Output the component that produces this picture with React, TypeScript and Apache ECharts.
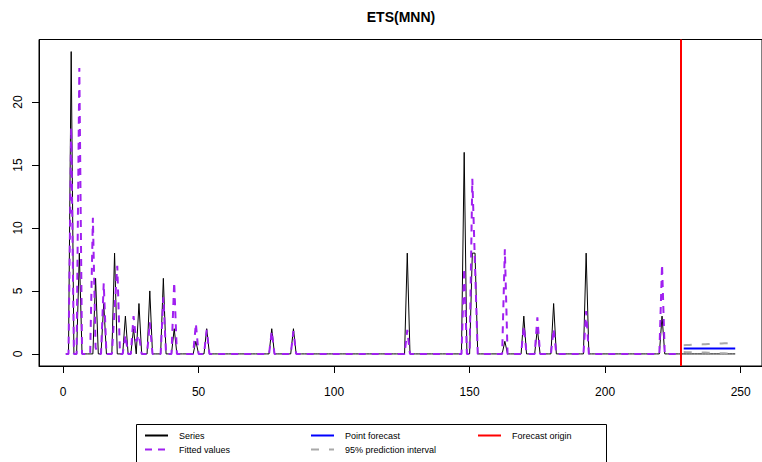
import React, { useEffect, useRef } from "react";
import * as echarts from "echarts";

// Actual series, t = 1..248 (last 20 are the holdout)
const seriesValues = [
  0, 0, 24, 0, 0, 8, 0, 0, 0, 0, 0, 6, 0, 0, 4, 0, 0, 0, 8, 0,
  0, 0, 3, 0, 0, 2, 0, 4, 0, 0, 0, 5, 0, 0, 0, 0, 6, 0, 0, 0,
  2, 0, 0, 0, 0, 0, 0, 0, 1, 0, 0, 0, 2, 0, 0, 0, 0, 0, 0, 0,
  0, 0, 0, 0, 0, 0, 0, 0, 0, 0, 0, 0, 0, 0, 0, 0, 2, 0, 0, 0,
  0, 0, 0, 0, 2, 0, 0, 0, 0, 0, 0, 0, 0, 0, 0, 0, 0, 0, 0, 0,
  0, 0, 0, 0, 0, 0, 0, 0, 0, 0, 0, 0, 0, 0, 0, 0, 0, 0, 0, 0,
  0, 0, 0, 0, 0, 0, 8, 0, 0, 0, 0, 0, 0, 0, 0, 0, 0, 0, 0, 0,
  0, 0, 0, 0, 0, 0, 0, 16, 0, 0, 8, 8, 0, 0, 0, 0, 0, 0, 0, 0,
  0, 0, 1, 0, 0, 0, 0, 0, 0, 3, 0, 0, 0, 0, 2, 0, 0, 0, 0, 0,
  4, 0, 0, 0, 0, 0, 0, 0, 0, 0, 0, 0, 8, 0, 0, 0, 0, 0, 0, 0,
  0, 0, 0, 0, 0, 0, 0, 0, 0, 0, 0, 0, 0, 0, 0, 0, 0, 0, 0, 0,
  3, 0, 0, 0, 0, 0, 0, 0, 0, 0, 0, 0, 0, 0, 0, 0, 0, 0, 0, 0,
  0, 0, 0, 0, 0, 0, 0, 0,
];

// Fitted values, t = 1..228
const fittedValues = [
  0, 0, 18, 0, 0, 22.7, 0, 0, 0, 0, 10.8, 0.5, 0, 0, 5.6, 0, 0, 0, 3.5, 7,
  0, 0, 1.5, 0, 0, 3, 1, 1.5, 0, 0, 0, 2.5, 0, 0, 0, 0, 4.5, 0, 0, 0,
  5.7, 0, 0, 0, 0, 0, 0, 0, 2.4, 0, 0, 0, 1.9, 0, 0, 0, 0, 0, 0, 0,
  0, 0, 0, 0, 0, 0, 0, 0, 0, 0, 0, 0, 0, 0, 0, 0, 1.8, 0, 0, 0,
  0, 0, 0, 0, 1.8, 0, 0, 0, 0, 0, 0, 0, 0, 0, 0, 0, 0, 0, 0, 0,
  0, 0, 0, 0, 0, 0, 0, 0, 0, 0, 0, 0, 0, 0, 0, 0, 0, 0, 0, 0,
  0, 0, 0, 0, 0, 0, 1.9, 0, 0, 0, 0, 0, 0, 0, 0, 0, 0, 0, 0, 0,
  0, 0, 0, 0, 0, 0, 0, 6.8, 0, 0, 13.9, 7, 0, 0, 0, 0, 0, 0, 0, 0,
  0, 0, 8.3, 0, 0, 0, 0, 0, 0, 2.2, 0, 0, 0, 0, 2.9, 0, 0, 0, 0, 0,
  2, 0, 0, 0, 0, 0, 0, 0, 0, 0, 0, 0, 3.4, 0, 0, 0, 0, 0, 0, 0,
  0, 0, 0, 0, 0, 0, 0, 0, 0, 0, 0, 0, 0, 0, 0, 0, 0, 0, 0, 0,
  7.1, 0, 0, 0, 0, 0, 0, 0,
];

// Forecast horizon, t = 229..248
const forecastValues = [
  0.42, 0.42, 0.42, 0.42, 0.42, 0.42, 0.42, 0.42, 0.42, 0.42,
  0.42, 0.42, 0.42, 0.42, 0.42, 0.42, 0.42, 0.42, 0.42, 0.42,
];
const upperValues = [
  0.69, 0.7, 0.71, 0.72, 0.73, 0.74, 0.75, 0.76, 0.77, 0.78,
  0.79, 0.8, 0.81, 0.82, 0.83, 0.84, 0.85, 0.86, 0.86, 0.87,
];
const lowerValues = [
  0.15, 0.14, 0.14, 0.13, 0.13, 0.12, 0.12, 0.11, 0.11, 0.1,
  0.09, 0.08, 0.07, 0.06, 0.06, 0.05, 0.04, 0.04, 0.03, 0.03,
];
const forecastOrigin = 228;

const xTicks = [0, 50, 100, 150, 200, 250];
const yTicks = [0, 5, 10, 15, 20];
const legendNames = [
  "Series",
  "Fitted values",
  "Point forecast",
  "95% prediction interval",
  "Forecast origin",
];
const titleText = "ETS(MNN)";

export default function App() {
  const ref = useRef<HTMLDivElement>(null);

  useEffect(() => {
    const chart = echarts.init(ref.current!, null, { renderer: "svg" });
    const font = "'Liberation Sans', Arial, Helvetica, sans-serif";

    const seriesData = seriesValues.map((v, i) => [i + 1, v]);
    const fittedData = fittedValues.map((v, i) => [i + 1, v]);
    const fcData = forecastValues.map((v, i) => [forecastOrigin + 1 + i, v]);
    const upData = upperValues.map((v, i) => [forecastOrigin + 1 + i, v]);
    const loData = lowerValues.map((v, i) => [forecastOrigin + 1 + i, v]);

    const n = seriesValues.length;
    const xPad = (n - 1) * 0.04;
    const yMax = Math.max(...seriesValues, ...fittedValues);
    const yPad = yMax * 0.04;

    const legendBase = {
      orient: "vertical",
      top: 431,
      padding: 0,
      itemWidth: 23,
      itemHeight: 10,
      itemGap: 5,
      itemStyle: { opacity: 0 },
      textStyle: {
        fontFamily: font,
        fontSize: 9,
        color: "#000",
        padding: [0, 0, 0, 6],
      },
    };

    chart.setOption({
      animation: false,
      backgroundColor: "#ffffff",
      title: {
        text: titleText,
        left: 401,
        top: 10,
        padding: 0,
        textAlign: "center",
        textStyle: {
          fontFamily: font,
          fontSize: 14,
          fontWeight: "bold",
          color: "#000",
        },
      },
      grid: {
        left: 39,
        top: 39.5,
        width: 724,
        height: 326.5,
        show: true,
        borderColor: "#000",
        borderWidth: 1,
        backgroundColor: "transparent",
      },
      xAxis: {
        type: "value",
        min: 1 - xPad,
        max: n + xPad,
        axisLine: { show: true, onZero: false, lineStyle: { color: "#000", width: 1 } },
        axisTick: { show: true, length: 7, customValues: xTicks, lineStyle: { color: "#000" } },
        axisLabel: {
          customValues: xTicks,
          margin: 20,
          fontSize: 12,
          fontFamily: font,
          color: "#000",
        },
        splitLine: { show: false },
      },
      yAxis: {
        type: "value",
        min: -yPad,
        max: yMax + yPad,
        axisLine: { show: true, onZero: false, lineStyle: { color: "#000", width: 1 } },
        axisTick: { show: true, length: 7, customValues: yTicks, lineStyle: { color: "#000" } },
        axisLabel: {
          customValues: yTicks,
          rotate: 90,
          margin: 15,
          fontSize: 12,
          fontFamily: font,
          color: "#000",
        },
        splitLine: { show: false },
      },
      legend: [
        { ...legendBase, left: 144, data: [legendNames[0], legendNames[1]] },
        { ...legendBase, left: 310, data: [legendNames[2], legendNames[3]] },
        { ...legendBase, left: 477, data: [legendNames[4]] },
      ],
      graphic: [
        {
          type: "rect",
          silent: true,
          shape: { x: 136.5, y: 424.5, width: 470, height: 60 },
          style: { fill: "none", stroke: "#000", lineWidth: 1 },
        },
      ],
      series: [
        {
          name: legendNames[0],
          type: "line",
          data: seriesData,
          symbol: "none",
          lineStyle: { color: "#000", width: 1 },
          itemStyle: { color: "#000" },
        },
        {
          name: legendNames[1],
          type: "line",
          data: fittedData,
          symbol: "none",
          lineStyle: { color: "#A020F0", width: 2, type: [7, 6] },
          itemStyle: { color: "#A020F0" },
        },
        {
          name: legendNames[2],
          type: "line",
          data: fcData,
          symbol: "none",
          lineStyle: { color: "#0000FF", width: 2 },
          itemStyle: { color: "#0000FF" },
        },
        {
          name: legendNames[3],
          type: "line",
          data: upData,
          symbol: "none",
          lineStyle: { color: "#A9A9A9", width: 2, type: [8, 10] },
          itemStyle: { color: "#A9A9A9" },
        },
        {
          name: legendNames[3],
          type: "line",
          data: loData,
          symbol: "none",
          lineStyle: { color: "#A9A9A9", width: 2, type: [8, 10] },
          itemStyle: { color: "#A9A9A9" },
        },
        {
          name: legendNames[4],
          type: "line",
          data: [],
          symbol: "none",
          lineStyle: { color: "#FF0000", width: 2 },
          itemStyle: { color: "#FF0000" },
          markLine: {
            silent: true,
            symbol: "none",
            label: { show: false },
            lineStyle: { color: "#FF0000", width: 2, type: "solid" },
            data: [{ xAxis: forecastOrigin }],
          },
        },
      ],
    });

    return () => chart.dispose();
  }, []);

  return (
    <div
      ref={ref}
      style={{ position: "fixed", left: 0, top: 0, width: 762, height: 462 }}
    />
  );
}
